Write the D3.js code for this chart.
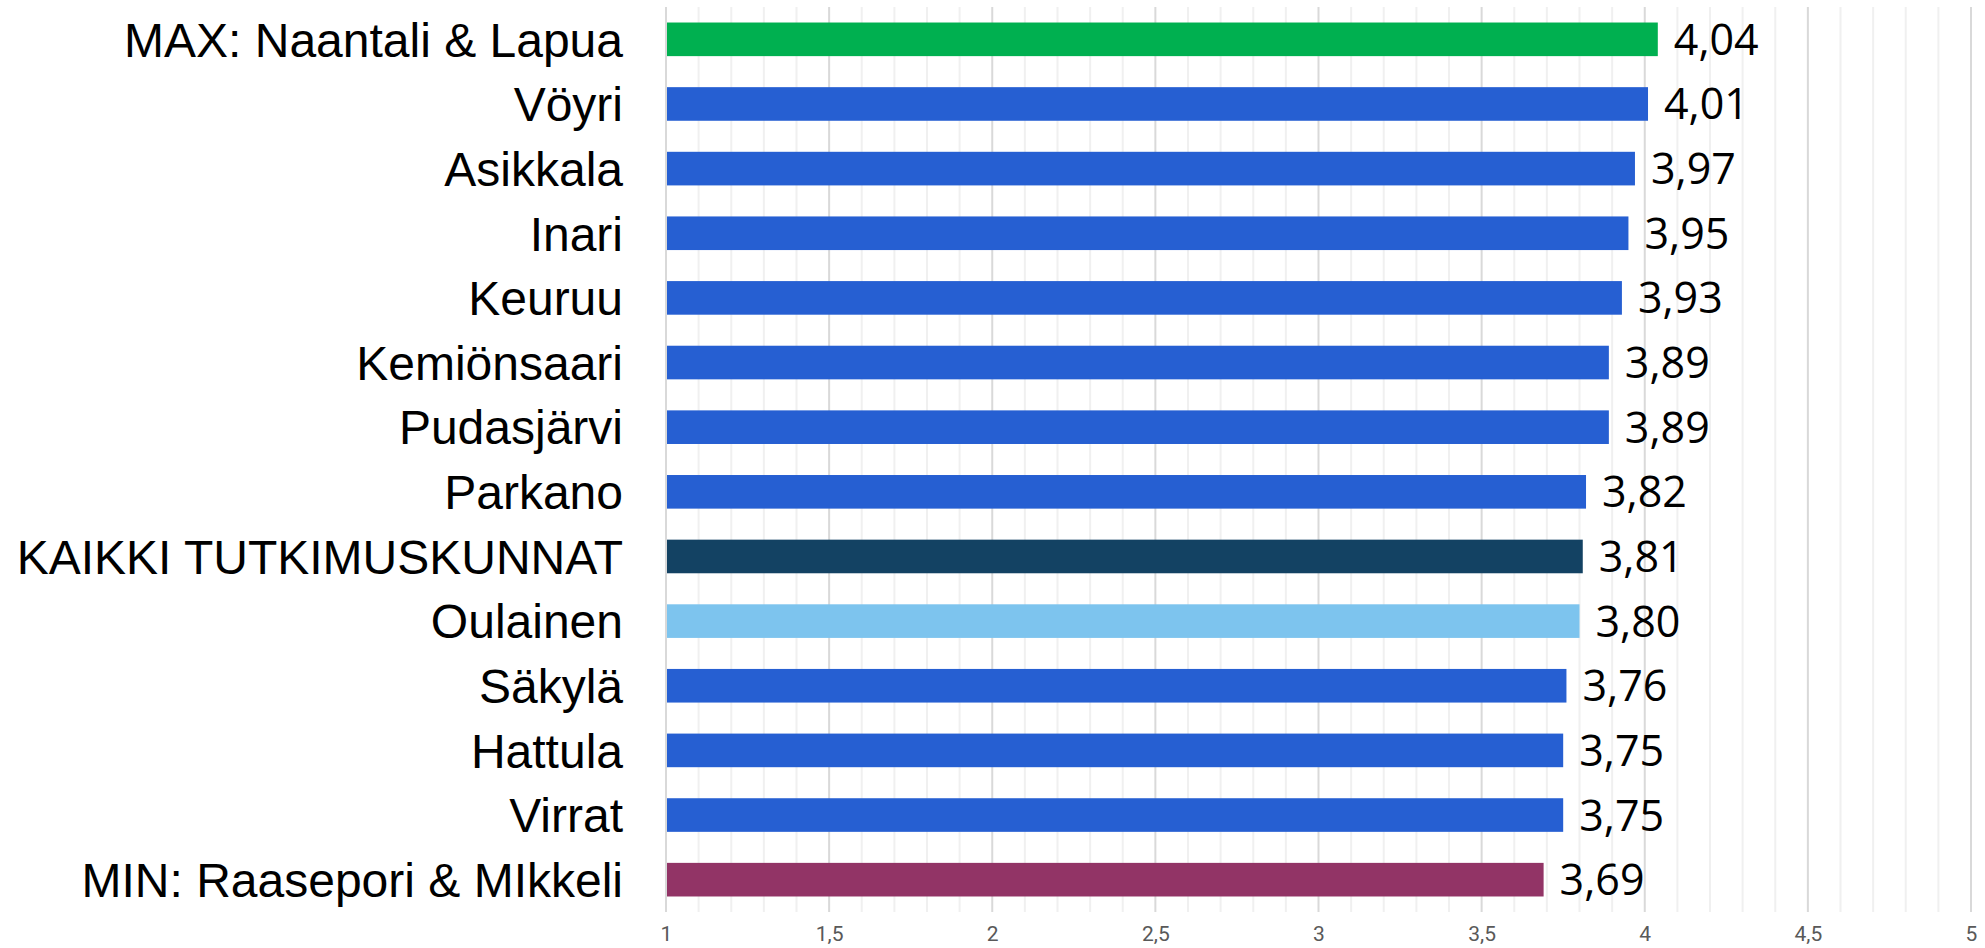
<!DOCTYPE html>
<html>
<head>
<meta charset="utf-8">
<script src="https://cdn.jsdelivr.net/npm/d3@7"></script>
<style>
    body { margin: 0; background: #fff; }
    svg { display: block; }
    .cat-label { font-family: "Liberation Sans", Arial, sans-serif; fill: #000; }
    .val-label { font-family: "Open Sans", "Noto Sans", sans-serif; fill: #000; }
    .axis text { font-family: Roboto, "Liberation Sans", sans-serif; fill: #595959; }
</style>
</head>
<body>
<div id="chart"></div>
<script>
// data
const categories = ['MAX: Naantali & Lapua', 'Vöyri', 'Asikkala', 'Inari', 'Keuruu', 'Kemiönsaari',
    'Pudasjärvi', 'Parkano', 'KAIKKI TUTKIMUSKUNNAT', 'Oulainen', 'Säkylä', 'Hattula', 'Virrat',
    'MIN: Raasepori & MIkkeli'];
const values = [4.04, 4.01, 3.97, 3.95, 3.93, 3.89, 3.89, 3.82, 3.81, 3.80, 3.76, 3.75, 3.75, 3.69];
const barColors = ['#00b050', '#265fd2', '#265fd2', '#265fd2', '#265fd2', '#265fd2', '#265fd2',
    '#265fd2', '#134263', '#7dc4ee', '#265fd2', '#265fd2', '#265fd2', '#923466'];
const majorTicks = [1, 1.5, 2, 2.5, 3, 3.5, 4, 4.5, 5];
const minorTicks = d3.range(10, 51).map(d => d / 10);

const config = {
    width: 1985,
    height: 948,
    margin: {top: 7, right: 14, bottom: 36, left: 666}
};

const fmt = d => d3.format('.2f')(d).replace('.', ',');
const tickFmt = d => String(d).replace('.', ',');

const width = config.width - config.margin.left - config.margin.right;
const height = config.height - config.margin.top - config.margin.bottom;

const svg = d3.select('#chart').append('svg')
    .attr('width', config.width)
    .attr('height', config.height);

const chart = svg.append('g')
    .attr('transform', `translate(${config.margin.left},${config.margin.top})`);

const xScale = d3.scaleLinear()
    .domain([1, 5])
    .range([0, width]);

const yScale = d3.scaleBand()
    .domain(categories)
    .range([0, height])
    .paddingInner(0.48)
    .paddingOuter(0.24);

// gridlines
chart.append('g').selectAll('line.minor')
    .data(minorTicks.filter(d => Math.round(d * 10) % 5 !== 0))
    .join('line')
    .attr('x1', d => xScale(d))
    .attr('x2', d => xScale(d))
    .attr('y1', 0)
    .attr('y2', height)
    .attr('stroke', '#f0f0f0')
    .attr('stroke-width', 2);

chart.append('g').selectAll('line.major')
    .data(majorTicks)
    .join('line')
    .attr('x1', d => xScale(d))
    .attr('x2', d => xScale(d))
    .attr('y1', 0)
    .attr('y2', height)
    .attr('stroke', '#d9d9d9')
    .attr('stroke-width', 2);

// bars
chart.selectAll('rect.bar')
    .data(values)
    .join('rect')
    .attr('class', 'bar')
    .attr('x', xScale(1) + 1)
    .attr('y', (d, i) => yScale(categories[i]))
    .attr('width', d => xScale(d) - xScale(1) - 1)
    .attr('height', yScale.bandwidth())
    .attr('fill', (d, i) => barColors[i]);

// value labels
chart.selectAll('text.val-label')
    .data(values)
    .join('text')
    .attr('class', 'val-label')
    .attr('x', d => xScale(d) + 16)
    .attr('y', (d, i) => yScale(categories[i]) + yScale.bandwidth() / 2)
    .attr('dy', '0.36em')
    .attr('font-size', 43)
    .text(d => fmt(d));

// category labels
chart.selectAll('text.cat-label')
    .data(categories)
    .join('text')
    .attr('class', 'cat-label')
    .attr('x', -43)
    .attr('y', d => yScale(d) + yScale.bandwidth() / 2)
    .attr('dy', '0.36em')
    .attr('text-anchor', 'end')
    .attr('font-size', 48)
    .text(d => d);

// x axis
const xAxis = d3.axisBottom(xScale)
    .tickValues(majorTicks)
    .tickSize(0)
    .tickPadding(14)
    .tickFormat(tickFmt);

chart.append('g')
    .attr('class', 'axis x-axis')
    .attr('transform', `translate(0, ${height})`)
    .call(xAxis)
    .call(g => g.select('.domain').remove())
    .call(g => g.selectAll('text').attr('font-size', 21));
</script>
</body>
</html>
